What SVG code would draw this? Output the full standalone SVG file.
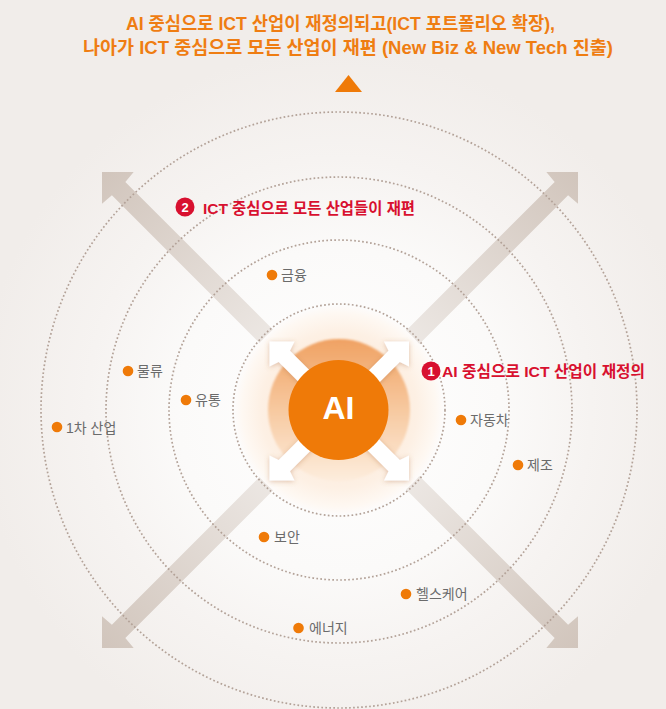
<svg xmlns="http://www.w3.org/2000/svg" width="666" height="709" viewBox="0 0 666 709">
<defs>
<style>
.title{font-family:"Liberation Sans","Noto Sans CJK KR",sans-serif;font-weight:700;font-size:18px;fill:#ef7d12;text-anchor:middle}
.red{font-family:"Liberation Sans","Noto Sans CJK KR",sans-serif;font-weight:700;font-size:15.5px;fill:#d8102f}
.num{font-family:"Liberation Sans","Noto Sans",sans-serif;font-weight:700;font-size:13px;fill:#ffffff;text-anchor:middle}
.lbl{font-family:"Liberation Sans","Noto Sans CJK KR",sans-serif;font-size:14px;fill:#6b6b6b}
.dot{fill:#ef7a08}
.ring{fill:none;stroke:#b3a298;stroke-width:1.7;stroke-dasharray:1.7 2.3}
.big{fill:url(#bigGrad)}
.wht{fill:#ffffff}
</style>
<radialGradient id="bg" gradientUnits="userSpaceOnUse" cx="339" cy="410" r="360">
<stop offset="0" stop-color="#ffffff"/>
<stop offset="0.45" stop-color="#fbfaf9"/>
<stop offset="0.7" stop-color="#f6f3f1"/>
<stop offset="1" stop-color="#f1edea"/>
</radialGradient>
<linearGradient id="bigGrad" x1="0" y1="0" x2="1" y2="0">
<stop offset="0" stop-color="#ece7e3"/>
<stop offset="1" stop-color="#d1c5bc"/>
</linearGradient>
<radialGradient id="glow" cx="0.5" cy="0.5" r="0.5">
<stop offset="0" stop-color="#fbe3cc"/>
<stop offset="0.75" stop-color="#fdf0e4"/>
<stop offset="0.93" stop-color="#fef8f2"/>
<stop offset="1" stop-color="#fdfbfa"/>
</radialGradient>
<linearGradient id="ringGrad" x1="0" y1="0" x2="0" y2="1">
<stop offset="0" stop-color="#f0a263"/>
<stop offset="0.5" stop-color="#f7c9a0"/>
<stop offset="1" stop-color="#fdeddd"/>
</linearGradient>
<filter id="soft" x="-20%" y="-20%" width="140%" height="140%">
<feGaussianBlur stdDeviation="1.3"/>
</filter>
<filter id="shadow" x="-30%" y="-30%" width="160%" height="160%">
<feDropShadow dx="0" dy="1" stdDeviation="2.5" flood-color="#b4703c" flood-opacity="0.4"/>
</filter>
<path id="bigArrow" d="M0,0 L-22.4,-22.4 L-23.5,-9.5 L-236,-9.5 L-236,9.5 L-23.5,9.5 L-22.4,22.4 Z"/>
<path id="whiteArrow" d="M0,0 L-17.7,-17.7 L-21,-8 L-99,-8 L-99,8 L-21,8 L-17.7,17.7 Z"/>
</defs>

<rect x="0" y="0" width="666" height="709" fill="url(#bg)"/>

<g id="title">
<text class="title" x="340.5" y="30" textLength="429" lengthAdjust="spacingAndGlyphs">AI 중심으로 ICT 산업이 재정의되고(ICT 포트폴리오 확장),</text>
<text class="title" x="348" y="54" textLength="530" lengthAdjust="spacingAndGlyphs">나아가 ICT 중심으로 모든 산업이 재편 (New Biz &amp; New Tech 진출)</text>
<polygon points="335,92 362,92 348.5,75" fill="#ef7a08"/>
</g>

<g id="connectors">
<use href="#bigArrow" class="big" transform="translate(102,172) rotate(225)"/>
<use href="#bigArrow" class="big" transform="translate(578,172) rotate(-45)"/>
<use href="#bigArrow" class="big" transform="translate(102,648) rotate(135)"/>
<use href="#bigArrow" class="big" transform="translate(578,648) rotate(45)"/>
</g>

<g id="rings">
<circle class="ring" cx="339" cy="410" r="298"/>
<circle class="ring" cx="339" cy="410" r="233"/>
<circle class="ring" cx="339" cy="410" r="170"/>
</g>

<g id="core">
<circle cx="339" cy="410" r="104" fill="url(#glow)"/>
<circle class="ring" cx="339" cy="410" r="106" stroke="#a38f83"/>
<circle cx="339" cy="410" r="71" fill="url(#ringGrad)" filter="url(#soft)"/>
<g filter="url(#shadow)">
<use href="#whiteArrow" class="wht" transform="translate(269.5,341.5) rotate(225)"/>
<use href="#whiteArrow" class="wht" transform="translate(409,341.5) rotate(-45)"/>
<use href="#whiteArrow" class="wht" transform="translate(269.5,480.5) rotate(135)"/>
<use href="#whiteArrow" class="wht" transform="translate(409,480.5) rotate(45)"/>
</g>
<circle cx="338.5" cy="410" r="50" fill="#ef7a08"/>
<text x="338.5" y="418.5" font-family="Liberation Sans, Arial, sans-serif" font-weight="700" font-size="32" fill="#ffffff" text-anchor="middle">AI</text>
</g>

<g id="label1">
<circle cx="431" cy="371" r="9.5" fill="#d8102f"/>
<text class="num" x="431" y="375.8">1</text>
<text class="red" x="442" y="376.5" textLength="203" lengthAdjust="spacingAndGlyphs">AI 중심으로 ICT 산업이 재정의</text>
</g>
<g id="label2">
<circle cx="185" cy="207" r="9.5" fill="#d8102f"/>
<text class="num" x="185" y="211.8">2</text>
<text class="red" x="203" y="213.5" textLength="212" lengthAdjust="spacingAndGlyphs">ICT 중심으로 모든 산업들이 재편</text>
</g>

<g id="n-finance"><circle class="dot" cx="272" cy="275" r="5.3"/><text class="lbl" x="281" y="280">금융</text></g>
<g id="n-logistics"><circle class="dot" cx="128" cy="371" r="5.3"/><text class="lbl" x="137" y="376">물류</text></g>
<g id="n-retail"><circle class="dot" cx="186" cy="400" r="5.3"/><text class="lbl" x="195" y="405">유통</text></g>
<g id="n-primary"><circle class="dot" cx="57" cy="427" r="5.3"/><text class="lbl" x="66" y="432.5">1차 산업</text></g>
<g id="n-auto"><circle class="dot" cx="461" cy="420" r="5.3"/><text class="lbl" x="470" y="425">자동차</text></g>
<g id="n-manufacturing"><circle class="dot" cx="518" cy="465" r="5.3"/><text class="lbl" x="527" y="470">제조</text></g>
<g id="n-security"><circle class="dot" cx="264" cy="537" r="5.3"/><text class="lbl" x="274" y="542">보안</text></g>
<g id="n-healthcare"><circle class="dot" cx="406" cy="594" r="5.3"/><text class="lbl" x="416" y="599">헬스케어</text></g>
<g id="n-energy"><circle class="dot" cx="298.5" cy="628" r="5.3"/><text class="lbl" x="309" y="633">에너지</text></g>
</svg>
